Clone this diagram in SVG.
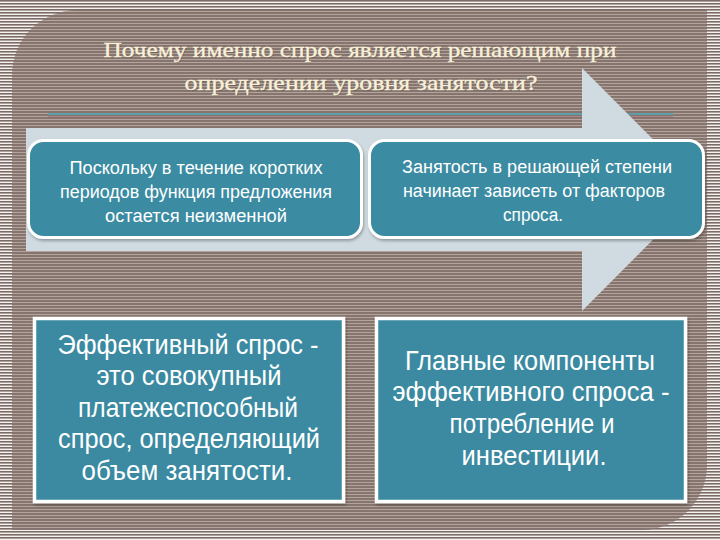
<svg xmlns="http://www.w3.org/2000/svg" width="720" height="540" viewBox="0 0 720 540">
  <defs>
    <pattern id="outerStripes" width="8" height="3" patternUnits="userSpaceOnUse">
      <rect width="8" height="3" fill="#7c6c65"/>
      <rect y="1.6" width="8" height="1.4" fill="#f4f2f0"/>
    </pattern>
    <pattern id="innerStripes" width="8" height="3" patternUnits="userSpaceOnUse">
      <rect width="8" height="3" fill="#85756e"/>
      <rect y="2" width="8" height="1" fill="#b5a49c"/>
    </pattern>
    <filter id="shadow" x="-5%" y="-5%" width="110%" height="115%">
      <feDropShadow dx="1" dy="2" stdDeviation="1.5" flood-color="#000" flood-opacity="0.3"/>
    </filter>
  </defs>
  <style>
    .title { font-family: "Liberation Serif", "DejaVu Serif", serif; font-size: 21px; fill: #f8f1da; stroke: #f8f1da; stroke-width: 0.35; text-anchor: middle; }
    .title-shadow { font-family: "Liberation Serif", "DejaVu Serif", serif; font-size: 21px; fill: #3a2d27; fill-opacity: 0.3; text-anchor: middle; }
    .tbox { fill: #3a8ba2; stroke: #ffffff; stroke-width: 3; }
    .bbox { fill: #3b8aa1; stroke: #ffffff; stroke-width: 3.5; }
    .small { font-family: "Liberation Sans Narrow", "Liberation Sans", Arial, sans-serif; font-size: 18px; fill: #ffffff; text-anchor: middle; }
    .big { font-family: "Liberation Sans Narrow", "Liberation Sans", Arial, sans-serif; font-size: 27px; fill: #ffffff; text-anchor: middle; }
  </style>

  <!-- background -->
  <rect width="720" height="540" fill="url(#outerStripes)"/>
  <path d="M12,530 L12,75 A65,65 0 0 1 77,10 L707,10 L707,465 A65,65 0 0 1 642,530 Z" fill="url(#innerStripes)"/>

  <!-- title -->
  <g id="title">
    <text class="title-shadow" x="361" y="58" textLength="513" lengthAdjust="spacingAndGlyphs">Почему именно спрос является решающим при</text>
    <text class="title-shadow" x="362" y="91" textLength="353" lengthAdjust="spacingAndGlyphs">определении уровня занятости?</text>
    <text class="title" x="360" y="57" textLength="513" lengthAdjust="spacingAndGlyphs">Почему именно спрос является решающим при</text>
    <text class="title" x="361" y="90" textLength="353" lengthAdjust="spacingAndGlyphs">определении уровня занятости?</text>
  </g>
  <g id="rule">
    <line x1="48" y1="114" x2="673" y2="114" stroke="#5f9da8" stroke-width="2"/>
    <line x1="48" y1="117" x2="673" y2="117" stroke="#946870" stroke-width="1"/>
  </g>

  <!-- big arrow -->
  <g id="connectors">
    <polygon id="arrow" points="26,128 582,128 582,68 703,189.5 582,311 582,251 26,251" fill="#cfdbe1"/>
  </g>

  <!-- top boxes -->
  <g id="box-top-left">
    <rect class="tbox" x="28.5" y="140.5" width="333" height="97" rx="15" filter="url(#shadow)"/>
    <text class="small" x="196" y="174" textLength="253" lengthAdjust="spacingAndGlyphs">Поскольку в течение коротких</text>
    <text class="small" x="196" y="198" textLength="272" lengthAdjust="spacingAndGlyphs">периодов функция предложения</text>
    <text class="small" x="196" y="222" textLength="182" lengthAdjust="spacingAndGlyphs">остается неизменной</text>
  </g>
  <g id="box-top-right">
    <rect class="tbox" x="369.5" y="140.5" width="334" height="97" rx="15" filter="url(#shadow)"/>
    <text class="small" x="537" y="173" textLength="270" lengthAdjust="spacingAndGlyphs">Занятость в решающей степени</text>
    <text class="small" x="534" y="197" textLength="262" lengthAdjust="spacingAndGlyphs">начинает зависеть от факторов</text>
    <text class="small" x="533" y="221" textLength="60" lengthAdjust="spacingAndGlyphs">спроса.</text>
  </g>

  <!-- bottom boxes -->
  <g id="box-bottom-left">
    <rect class="bbox" x="34.5" y="318.5" width="309" height="183" filter="url(#shadow)"/>
    <text class="big" x="188" y="354" textLength="261" lengthAdjust="spacingAndGlyphs">Эффективный спрос -</text>
    <text class="big" x="189" y="385" textLength="185" lengthAdjust="spacingAndGlyphs">это совокупный</text>
    <text class="big" x="188" y="417" textLength="220" lengthAdjust="spacingAndGlyphs">платежеспособный</text>
    <text class="big" x="189" y="448" textLength="262" lengthAdjust="spacingAndGlyphs">спрос, определяющий</text>
    <text class="big" x="187" y="480" textLength="211" lengthAdjust="spacingAndGlyphs">объем занятости.</text>
  </g>
  <g id="box-bottom-right">
    <rect class="bbox" x="376.5" y="318.5" width="309" height="183" filter="url(#shadow)"/>
    <text class="big" x="530" y="370" textLength="250" lengthAdjust="spacingAndGlyphs">Главные компоненты</text>
    <text class="big" x="531" y="401" textLength="277" lengthAdjust="spacingAndGlyphs">эффективного спроса -</text>
    <text class="big" x="532" y="433" textLength="165" lengthAdjust="spacingAndGlyphs">потребление и</text>
    <text class="big" x="534" y="465" textLength="145" lengthAdjust="spacingAndGlyphs">инвестиции.</text>
  </g>
</svg>
